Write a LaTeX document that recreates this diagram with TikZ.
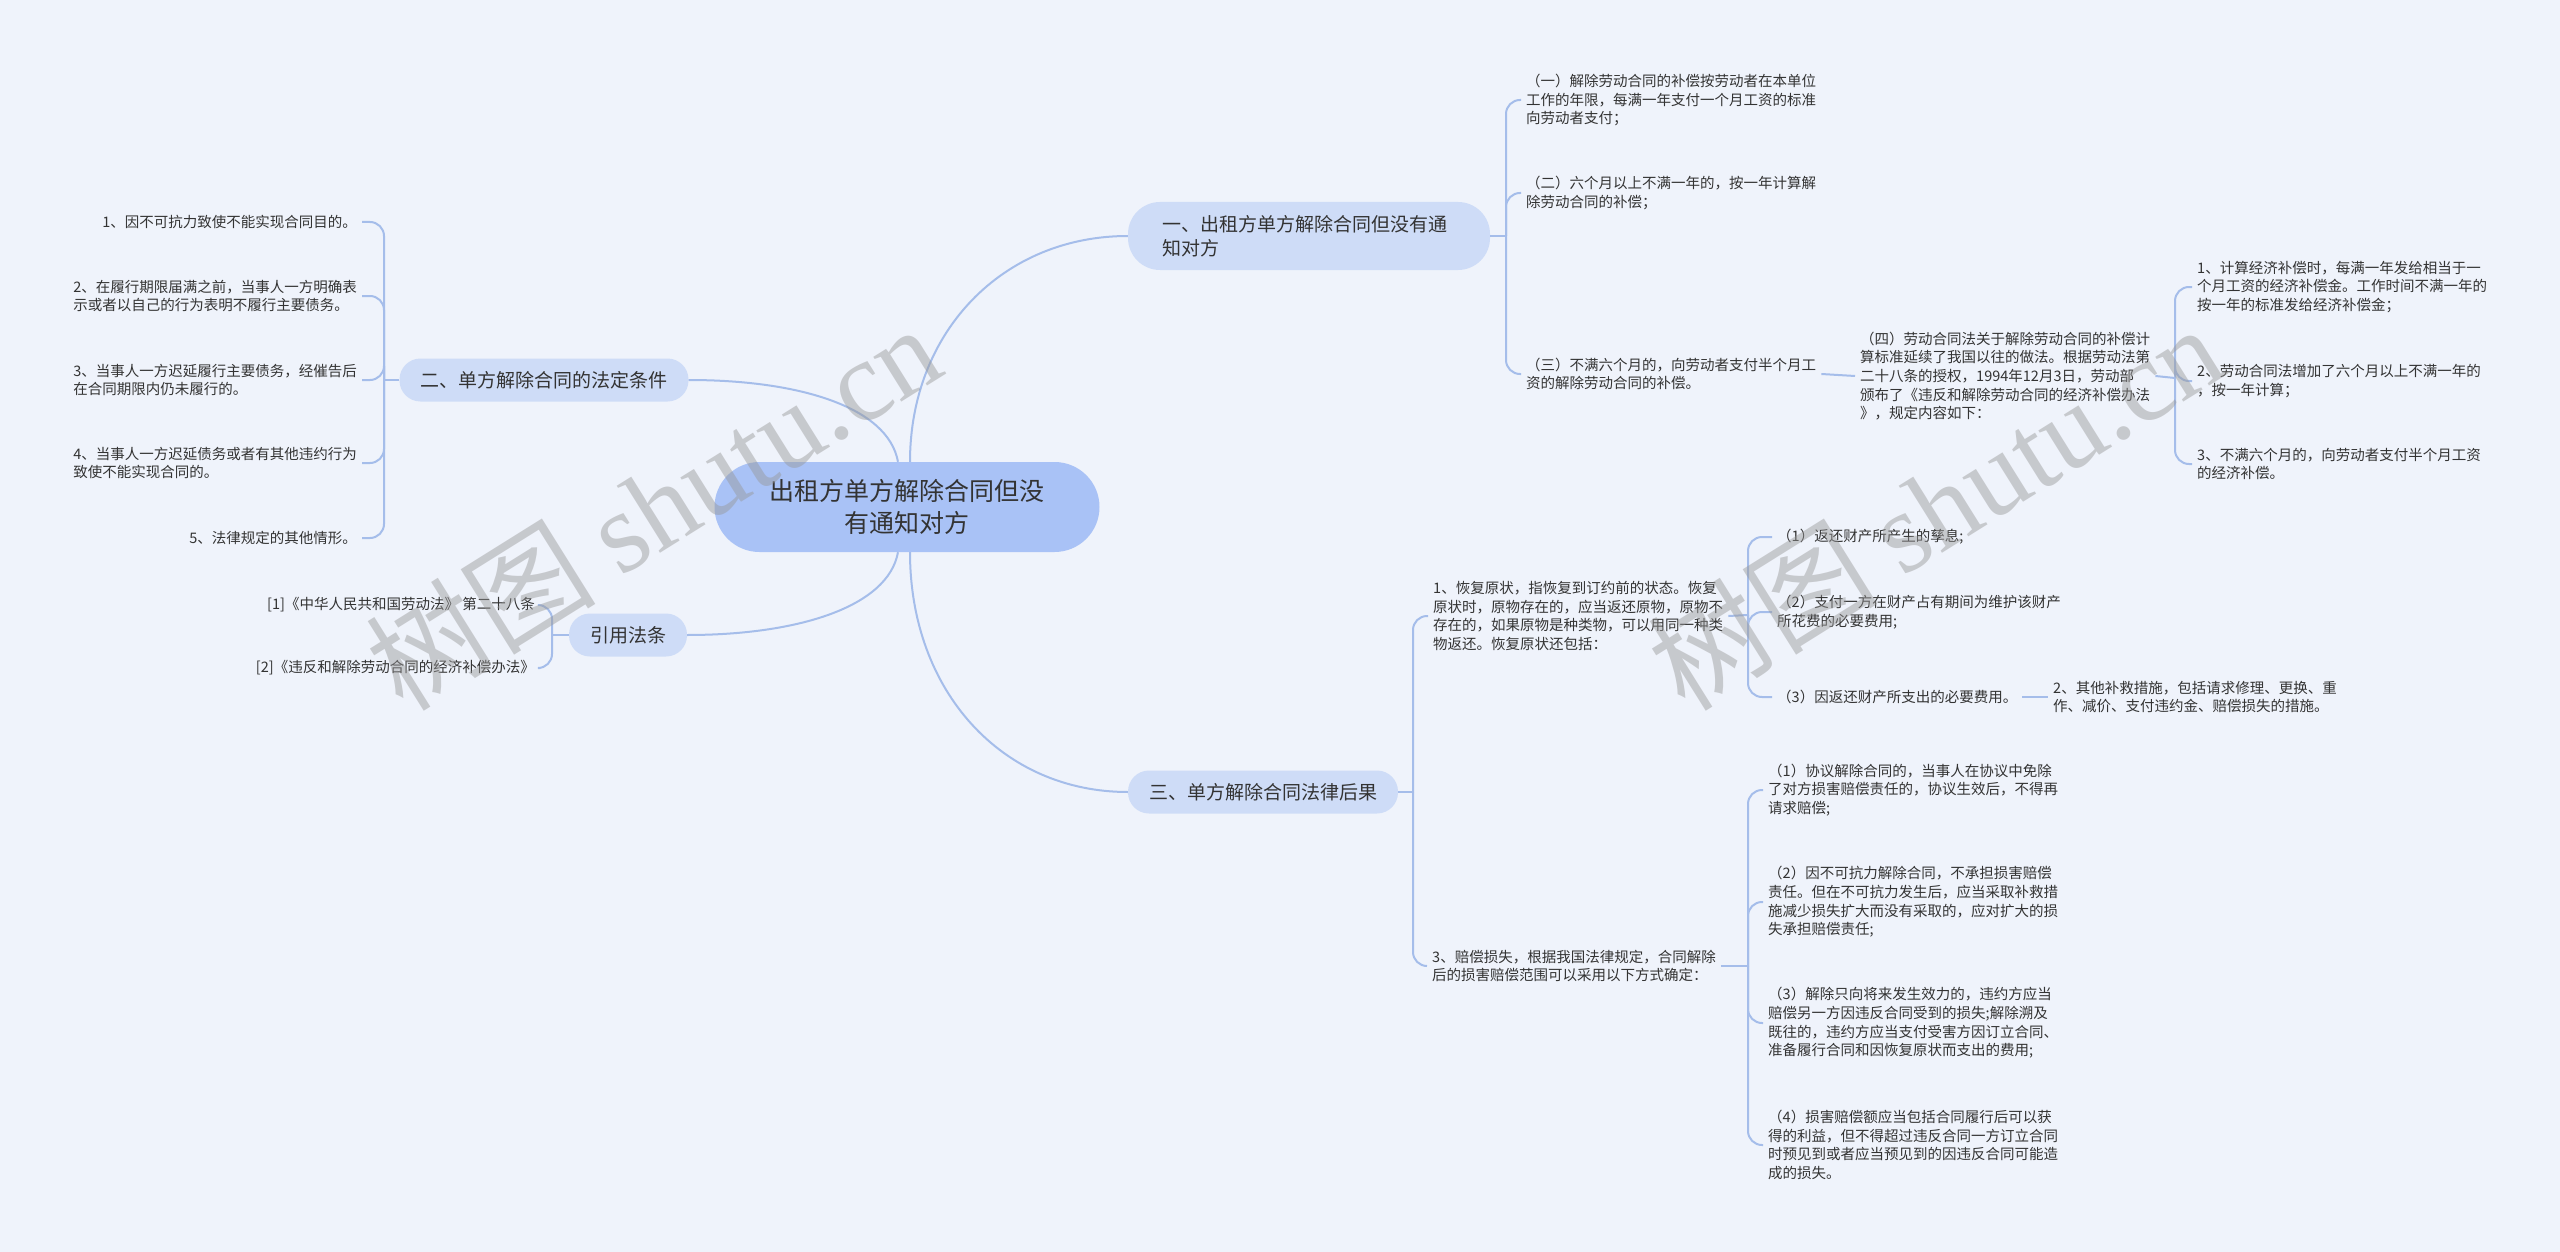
\documentclass[tikz,border=0pt]{standalone}
\usepackage{fontspec}
\setmainfont{Noto Sans CJK SC}
\newfontfamily\wmlatin{Liberation Serif}
\definecolor{bgcol}{RGB}{239,243,251}
\definecolor{rootcol}{RGB}{169,194,246}
\definecolor{branchcol}{RGB}{206,220,247}
\definecolor{linecol}{RGB}{165,189,234}
\definecolor{txtcol}{RGB}{51,51,51}
\definecolor{wmcol}{RGB}{150,150,150}
\tikzset{rootnode/.style = {fill=rootcol, rounded corners=45pt, minimum width=385pt, minimum height=90pt, align=center, text=txtcol, font=\fontsize{25}{32}\selectfont}}
\tikzset{branch/.style = {fill=branchcol, rounded corners=21pt, minimum height=43pt, inner xsep=21pt, text=txtcol, font=\fontsize{19}{23.5}\selectfont}}
\tikzset{leaf/.style = {inner xsep=5pt, inner ysep=2pt, align=left, text=txtcol, font=\fontsize{14.5}{18.7}\selectfont}}
\tikzset{link/.style = {draw=linecol, line width=2pt, rounded corners=14pt}}
\tikzset{wmark/.style = {text=wmcol, text opacity=0.45, rotate=32, font=\fontsize{115}{115}\selectfont}}

\begin{document}
\begin{tikzpicture}[x=1pt, y=-1pt]
\fill [bgcol] (0,0) rectangle (2560,1252);
\useasboundingbox (0,0) rectangle (2560,1252);

\node [rootnode] (root) at (907,507) {出租方单方解除合同但没\\有通知对方};
\node [branch, rounded corners=32pt, inner xsep=34pt, minimum height=68pt, text width=294pt, align=left] (b1) at (1309,236) {一、出租方单方解除合同但没有通\\知对方};
\node [branch] (b2) at (544,380) {二、单方解除合同的法定条件};
\node [branch] (b3) at (1263,792) {三、单方解除合同法律后果};
\node [branch] (b4) at (628,635) {引用法条};

\draw [link] ([xshift=3pt]root.north) .. controls +(0,-130) and +(-125,0) .. (b1.west);
\draw [link] ([xshift=-9pt]root.north) .. controls +(-10,-55) and +(110,0) .. (b2.east);
\draw [link] ([xshift=-9pt]root.south) .. controls +(-10,55) and +(110,0) .. (b4.east);
\draw [link] ([xshift=3pt]root.south) .. controls +(0,140) and +(-125,0) .. (b3.west);

\node [leaf, anchor=west] (a1) at (1521,100) {（一）解除劳动合同的补偿按劳动者在本单位\\工作的年限，每满一年支付一个月工资的标准\\向劳动者支付；};
\node [leaf, anchor=west] (a2) at (1521,193) {（二）六个月以上不满一年的，按一年计算解\\除劳动合同的补偿；};
\node [leaf, anchor=west] (a3) at (1521,374) {（三）不满六个月的，向劳动者支付半个月工\\资的解除劳动合同的补偿。};
\node [leaf, anchor=west] (a4) at (1855,376) {（四）劳动合同法关于解除劳动合同的补偿计\\算标准延续了我国以往的做法。根据劳动法第\\二十八条的授权，1994年12月3日，劳动部\\颁布了《违反和解除劳动合同的经济补偿办法\\》，规定内容如下：};
\node [leaf, anchor=west] (c1) at (2192,287) {1、计算经济补偿时，每满一年发给相当于一\\个月工资的经济补偿金。工作时间不满一年的\\按一年的标准发给经济补偿金；};
\node [leaf, anchor=west] (c2) at (2192,381) {2、劳动合同法增加了六个月以上不满一年的\\，按一年计算；};
\node [leaf, anchor=west] (c3) at (2192,464) {3、不满六个月的，向劳动者支付半个月工资\\的经济补偿。};

\coordinate (j1) at (1506,236);
\draw [link] (b1.east) -- (j1);
\draw [link] (j1) |- (a1.west);
\draw [link] (j1) |- (a2.west);
\draw [link] (j1) |- (a3.west);
\draw [link] (a3.east) -- (a4.west);
\coordinate (j4) at (2175,378);
\draw [link] (a4.east) -- (j4);
\draw [link] (j4) |- (c1.west);
\draw [link] (j4) |- (c2.west);
\draw [link] (j4) |- (c3.west);

\node [leaf, anchor=east] (d1) at (362,222) {1、因不可抗力致使不能实现合同目的。};
\node [leaf, anchor=east] (d2) at (362,296) {2、在履行期限届满之前，当事人一方明确表\\示或者以自己的行为表明不履行主要债务。};
\node [leaf, anchor=east] (d3) at (362,380) {3、当事人一方迟延履行主要债务，经催告后\\在合同期限内仍未履行的。};
\node [leaf, anchor=east] (d4) at (362,463) {4、当事人一方迟延债务或者有其他违约行为\\致使不能实现合同的。};
\node [leaf, anchor=east] (d5) at (362,538) {5、法律规定的其他情形。};

\coordinate (j2) at (384,380);
\draw [link] (b2.west) -- (j2);
\draw [link] (j2) |- (d1.east);
\draw [link] (j2) |- (d2.east);
\draw [link] (j2) |- (d3.east);
\draw [link] (j2) |- (d4.east);
\draw [link] (j2) |- (d5.east);

\node [leaf, anchor=east] (e1) at (540,605) {[1]《中华人民共和国劳动法》 第二十八条};
\node [leaf, anchor=east] (e2) at (540,668) {[2]《违反和解除劳动合同的经济补偿办法》};
\coordinate (j5) at (552,635);
\draw [link] (b4.west) -- (j5);
\draw [link] (j5) |- (e1.east);
\draw [link] (j5) |- (e2.east);

\node [leaf, anchor=west] (f1) at (1428,616) {1、恢复原状，指恢复到订约前的状态。恢复\\原状时，原物存在的，应当返还原物，原物不\\存在的，如果原物是种类物，可以用同一种类\\物返还。恢复原状还包括：};
\node [leaf, anchor=west] (f2) at (1427,966) {3、赔偿损失，根据我国法律规定，合同解除\\后的损害赔偿范围可以采用以下方式确定：};
\coordinate (j3) at (1413,792);
\draw [link] (b3.east) -- (j3);
\draw [link] (j3) |- (f1.west);
\draw [link] (j3) |- (f2.west);

\node [leaf, anchor=west] (g1) at (1772,537) {（1）返还财产所产生的孳息;};
\node [leaf, anchor=west] (g2) at (1772,612) {（2）支付一方在财产占有期间为维护该财产\\所花费的必要费用;};
\node [leaf, anchor=west] (g3) at (1772,697) {（3）因返还财产所支出的必要费用。};
\node [leaf, anchor=west] (h1) at (2048,697) {2、其他补救措施，包括请求修理、更换、重\\作、减价、支付违约金、赔偿损失的措施。};
\coordinate (j6) at (1748,615);
\draw [link] (f1.east) -- (j6);
\draw [link] (j6) |- (g1.west);
\draw [link] (j6) |- (g2.west);
\draw [link] (j6) |- (g3.west);
\draw [link] (g3.east) -- (h1.west);

\node [leaf, anchor=west] (k1) at (1763,790) {（1）协议解除合同的，当事人在协议中免除\\了对方损害赔偿责任的，协议生效后，不得再\\请求赔偿;};
\node [leaf, anchor=west] (k2) at (1763,902) {（2）因不可抗力解除合同，不承担损害赔偿\\责任。但在不可抗力发生后，应当采取补救措\\施减少损失扩大而没有采取的，应对扩大的损\\失承担赔偿责任;};
\node [leaf, anchor=west] (k3) at (1763,1023) {（3）解除只向将来发生效力的，违约方应当\\赔偿另一方因违反合同受到的损失;解除溯及\\既往的，违约方应当支付受害方因订立合同、\\准备履行合同和因恢复原状而支出的费用;};
\node [leaf, anchor=west] (k4) at (1763,1145) {（4）损害赔偿额应当包括合同履行后可以获\\得的利益，但不得超过违反合同一方订立合同\\时预见到或者应当预见到的因违反合同可能造\\成的损失。};
\coordinate (j7) at (1748,966);
\draw [link] (f2.east) -- (j7);
\draw [link] (j7) |- (k1.west);
\draw [link] (j7) |- (k2.west);
\draw [link] (j7) |- (k3.west);
\draw [link] (j7) |- (k4.west);

\node [wmark] (wm1) at (653,506) {树图 {\wmlatin shutu.cn}};
\node [wmark] (wm2) at (1935,506) {树图 {\wmlatin shutu.cn}};
\end{tikzpicture}
\end{document}
